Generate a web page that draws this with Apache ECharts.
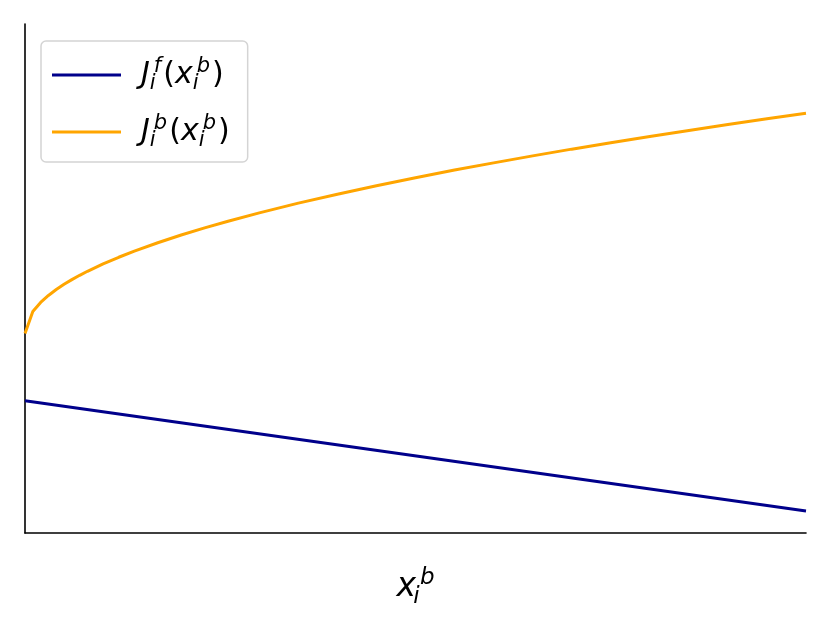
<!DOCTYPE html>
<html>
<head>
<meta charset="utf-8">
<script src="https://cdn.jsdelivr.net/npm/echarts@6/dist/echarts.min.js"></script>
<style>
  html, body { margin: 0; padding: 0; background: #fff; }
  #chart { width: 831px; height: 619px; }
</style>
</head>
<body>
<div id="chart"></div>
<script>
// x positions (0..1) and values
const xFront = [0, 1];
const jFront = [1.32, 0.22];

const xBack = [0, 0.01, 0.02, 0.03, 0.04, 0.05, 0.06, 0.07, 0.08, 0.1, 0.12, 0.14, 0.17, 0.2, 0.23, 0.26, 0.3, 0.35, 0.4, 0.45, 0.5, 0.55, 0.6, 0.65, 0.7, 0.75, 0.8, 0.85, 0.9, 0.95, 1.0];
const jBack = [1.990, 2.210, 2.301, 2.371, 2.430, 2.482, 2.529, 2.572, 2.612, 2.686, 2.752, 2.813, 2.897, 2.974, 3.045, 3.112, 3.195, 3.292, 3.381, 3.466, 3.546, 3.622, 3.694, 3.764, 3.831, 3.895, 3.958, 4.018, 4.077, 4.134, 4.190];

const seriesNames = ["J_i^f(x_i^b)", "J_i^b(x_i^b)"];
const legendRich = {
  "J_i^f(x_i^b)": "{m|J}{sb|i}{sp|f}{u|(}{m|x}{sb|i}{sp|b}{u|)}",
  "J_i^b(x_i^b)": "{m|J}{sb|i}{sp|b}{u|(}{m|x}{sb|i}{sp|b}{u|)}"
};

function pairs(xs, ys) {
  return xs.map((x, i) => [x, ys[i]]);
}

const chart = echarts.init(document.getElementById("chart"));

const font = "DejaVu Sans";

const option = {
  animation: false,
  grid: { left: 25, right: 25, top: 24, bottom: 86 },
  legend: {
    orient: "vertical",
    left: 41,
    top: 41,
    padding: [14, 18, 10, 11],
    itemGap: 17,
    itemWidth: 69,
    itemHeight: 3,
    icon: "rect",
    borderColor: "#d4d4d4",
    borderWidth: 1.5,
    borderRadius: 5,
    backgroundColor: "rgba(255,255,255,0.8)",
    data: seriesNames,
    formatter: function (name) { return legendRich[name]; },
    textStyle: {
      fontFamily: font,
      color: "#000",
      lineHeight: 40,
      rich: {
        m: { fontSize: 30, fontStyle: "italic", fontFamily: font, color: "#000" },
        u: { fontSize: 30, fontFamily: font, color: "#000", padding: [0, 0, 0, 2] },
        sb: { fontSize: 21, fontStyle: "italic", fontFamily: font, color: "#000", width: 1, padding: [17, 0, 0, 0] },
        sp: { fontSize: 21, fontStyle: "italic", fontFamily: font, color: "#000", padding: [0, 0, 16, 3] }
      },
      padding: [0, 0, 0, 15]
    }
  },
  xAxis: {
    type: "value",
    min: 0,
    max: 1,
    name: "{m|x}{sb|i}{sp|b}",
    nameLocation: "middle",
    nameGap: 33,
    nameTextStyle: {
      fontFamily: font,
      rich: {
        m: { fontSize: 33, fontStyle: "italic", fontFamily: font, color: "#000" },
        sb: { fontSize: 23, fontStyle: "italic", fontFamily: font, color: "#000", width: 1, padding: [20, 0, 0, 0] },
        sp: { fontSize: 23, fontStyle: "italic", fontFamily: font, color: "#000", padding: [0, 0, 18, 3] }
      }
    },
    axisLine: { show: true, onZero: false, lineStyle: { color: "#000", width: 1.6 } },
    axisTick: { show: false },
    axisLabel: { show: false },
    splitLine: { show: false }
  },
  yAxis: {
    type: "value",
    min: 0,
    max: 5.08,
    axisLine: { show: true, onZero: false, lineStyle: { color: "#000", width: 1.6 } },
    axisTick: { show: false },
    axisLabel: { show: false },
    splitLine: { show: false }
  },
  series: [
    {
      name: seriesNames[0],
      type: "line",
      data: pairs(xFront, jFront),
      showSymbol: false,
      symbol: "none",
      lineStyle: { color: "#00008b", width: 3 },
      itemStyle: { color: "#00008b" }
    },
    {
      name: seriesNames[1],
      type: "line",
      data: pairs(xBack, jBack),
      showSymbol: false,
      symbol: "none",
      lineStyle: { color: "#ffa500", width: 3 },
      itemStyle: { color: "#ffa500" }
    }
  ]
};

chart.setOption(option);
</script>
</body>
</html>
